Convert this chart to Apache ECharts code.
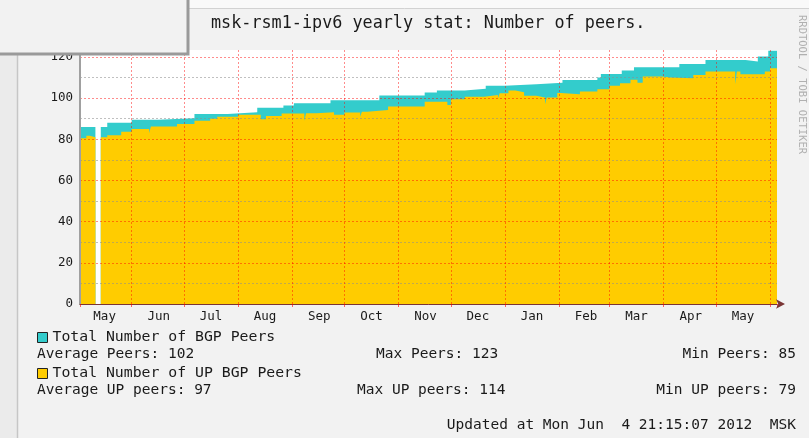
<!DOCTYPE html>
<html>
<head>
<meta charset="utf-8">
<title>msk-rsm1-ipv6 yearly stat</title>
<script src="https://cdn.jsdelivr.net/npm/echarts@6/dist/echarts.min.js"></script>
<style>
  html, body { margin: 0; padding: 0; background: #f2f2f2; }
  #chart { width: 809px; height: 438px; }
</style>
</head>
<body>
<div id="chart"></div>
<script>
// Total Number of BGP Peers (step points, value holds until next date)
const totalDates = ['2011-05-02 09:00', '2011-05-11 05:00', '2011-05-11 06:00', '2011-05-14 07:00', '2011-05-18', '2011-06-01',
  '2011-06-16', '2011-07-07', '2011-07-26', '2011-08-12', '2011-08-27', '2011-09-02', '2011-09-23', '2011-10-21',
  '2011-11-16', '2011-11-23', '2011-12-09', '2011-12-21', '2012-01-01', '2012-01-19', '2012-02-03', '2012-02-23',
  '2012-02-25', '2012-03-08', '2012-03-15', '2012-04-10', '2012-04-25', '2012-05-18', '2012-05-25', '2012-05-31', '2012-06-05'];
const totalPeers = [86, 86, null, 86, 88, 89.5,
  90.3, 92.3, 93.2, 95.4, 96.4, 97.5, 99, 101.3,
  102.7, 103.7, 104.6, 106, 106.7, 107.5, 108.8, 110,
  111.8, 113.4, 115, 116.6, 118.6, 117.8, 120.2, 123, 123];

// Total Number of UP BGP Peers
const upDates = ['2011-05-02 09:00', '2011-05-06', '2011-05-08', '2011-05-11 05:00', '2011-05-11 06:00', '2011-05-14 07:00',
  '2011-05-18', '2011-05-26', '2011-06-01', '2011-06-11', '2011-06-12', '2011-06-27', '2011-07-07', '2011-07-16',
  '2011-07-20', '2011-08-01', '2011-08-14', '2011-08-17', '2011-08-26', '2011-09-08', '2011-09-09', '2011-09-15',
  '2011-09-25', '2011-10-01', '2011-10-10', '2011-10-11', '2011-10-14', '2011-10-26', '2011-11-16', '2011-11-29',
  '2011-12-01', '2011-12-09', '2011-12-20', '2011-12-28', '2011-12-29', '2012-01-03', '2012-01-07', '2012-01-12',
  '2012-01-19', '2012-01-24', '2012-01-25', '2012-01-31', '2012-02-02', '2012-02-13', '2012-02-23', '2012-03-01',
  '2012-03-07', '2012-03-13', '2012-03-17', '2012-03-20', '2012-03-31', '2012-04-05', '2012-04-18', '2012-04-25',
  '2012-05-12', '2012-05-13', '2012-05-15', '2012-05-29', '2012-06-01', '2012-06-05'];
const upPeers = [80.5, 81.8, 81, 81, null, 81,
  82, 83.7, 85, 83, 86.2, 87.5, 89, 90,
  91, 92, 89.7, 91.3, 92.6, 89, 92.7, 93.1,
  92, 93, 91, 93.4, 94.3, 96, 98.3, 96.7,
  99.5, 100.7, 101.5, 100, 102.4, 103.7, 102.9, 101.2,
  100.3, 97, 100.3, 102.5, 101.9, 103.2, 104.3, 106,
  107.2, 109, 107.5, 110.5, 110, 109.7, 111.3, 112.9,
  106.7, 112.9, 111.6, 113, 114.5, 114.5];

const monthNames = ['Jan', 'Feb', 'Mar', 'Apr', 'May', 'Jun', 'Jul', 'Aug', 'Sep', 'Oct', 'Nov', 'Dec'];

const DAY = 86400000;
const axisStart = new Date(2011, 4, 2, 9).getTime();
const axisEnd = new Date(2012, 5, 5).getTime();
// month labels sit in the middle of the month
const labelShift = 15.5 * DAY;

const mono = 'DejaVu Sans Mono';
const textCol = '#1a1a1a';

function statText(text, pos) {
  return Object.assign({
    text: text,
    padding: 0,
    textStyle: { fontFamily: mono, fontSize: 14.5, fontWeight: 'normal', color: textCol }
  }, pos);
}

const chart = echarts.init(document.getElementById('chart'));

chart.setOption({
  animation: false,
  backgroundColor: '#f2f2f2',
  title: [
    { text: 'msk-rsm1-ipv6 yearly stat: Number of peers.', left: 211, top: 15, padding: 0,
      textStyle: { fontFamily: mono, fontSize: 16.8, fontWeight: 'normal', color: textCol } },
    statText('Average Peers: 102', { left: 37, top: 347 }),
    statText('Max Peers: 123', { left: 376, top: 347 }),
    statText('Min Peers: 85', { right: 13, top: 347 }),
    statText('Average UP peers: 97', { left: 37, top: 383 }),
    statText('Max UP peers: 114', { left: 357, top: 383 }),
    statText('Min UP peers: 79', { right: 13, top: 383 }),
    statText('Updated at Mon Jun  4 21:15:07 2012  MSK', { right: 13, top: 418 })
  ],
  legend: [
    { data: ['Total Number of BGP Peers'], left: 37, top: 330, padding: 0, icon: 'rect',
      itemWidth: 10, itemHeight: 10, selectedMode: false,
      itemStyle: { borderColor: '#222', borderWidth: 1 },
      textStyle: { fontFamily: mono, fontSize: 14.8, color: textCol } },
    { data: ['Total Number of UP BGP Peers'], left: 37, top: 366, padding: 0, icon: 'rect',
      itemWidth: 10, itemHeight: 10, selectedMode: false,
      itemStyle: { borderColor: '#222', borderWidth: 1 },
      textStyle: { fontFamily: mono, fontSize: 14.8, color: textCol } }
  ],
  grid: { left: 80, right: 32, top: 50, bottom: 134, show: true, backgroundColor: '#ffffff', borderWidth: 0 },
  xAxis: [
    {
      type: 'time', position: 'bottom', min: axisStart, max: axisEnd,
      minInterval: 28 * DAY, maxInterval: 31 * DAY, z: 10,
      axisLine: { onZero: false, symbol: ['none', 'arrow'], symbolSize: [7, 9], symbolOffset: [0, 8],
        lineStyle: { color: '#7a3535', width: 1 } },
      axisTick: { show: true, length: 3, lineStyle: { color: 'rgba(255,0,0,0.6)' } },
      axisLabel: { show: false },
      splitLine: { show: true, showMinLine: false, showMaxLine: false,
        lineStyle: { color: 'rgba(255,0,0,0.45)', type: [2, 2], width: 1 } }
    },
    {
      type: 'time', position: 'bottom', min: axisStart - labelShift, max: axisEnd - labelShift,
      minInterval: 28 * DAY, maxInterval: 31 * DAY,
      axisLine: { show: false, onZero: false }, axisTick: { show: false }, splitLine: { show: false },
      axisLabel: {
        margin: 6, fontFamily: mono, fontSize: 12.5, color: textCol,
        formatter: function (val) {
          const d = new Date(val);
          return (d.getDate() === 1 && d.getHours() === 0) ? monthNames[d.getMonth()] : '';
        }
      }
    }
  ],
  yAxis: {
    type: 'value', min: 0, max: 123.4, interval: 10, z: 10,
    axisLine: { show: true, lineStyle: { color: '#a0a0a0', width: 2 } },
    axisTick: { show: false },
    axisLabel: {
      margin: 7, fontFamily: mono, fontSize: 12.5, color: textCol, showMaxLabel: false,
      formatter: function (v) { return v % 20 === 0 ? String(v) : ''; }
    },
    splitLine: { show: true, showMaxLine: false,
      lineStyle: { color: ['rgba(255,0,0,0.45)', 'rgba(140,140,140,0.55)'], type: [2, 2], width: 1 } }
  },
  series: [
    {
      name: 'Total Number of BGP Peers', type: 'line', step: 'end', xAxisIndex: 0,
      data: totalDates.map((d, i) => [d, totalPeers[i]]),
      symbol: 'none', silent: true, z: 2,
      itemStyle: { color: '#33cccc' },
      lineStyle: { width: 0 },
      areaStyle: { color: '#33cccc', opacity: 1 }
    },
    {
      name: 'Total Number of UP BGP Peers', type: 'line', step: 'end', xAxisIndex: 0,
      data: upDates.map((d, i) => [d, upPeers[i]]),
      symbol: 'none', silent: true, z: 3,
      itemStyle: { color: '#ffcc00' },
      lineStyle: { width: 0 },
      areaStyle: { color: '#ffcc00', opacity: 1 }
    }
  ],
  graphic: [
    { type: 'rect', z: 1, shape: { x: 0, y: 0, width: 17, height: 438 }, style: { fill: '#ebebeb' } },
    { type: 'line', z: 1, shape: { x1: 17.5, y1: 0, x2: 17.5, y2: 438 }, style: { stroke: '#c6c6c6', lineWidth: 1.5 } },
    { type: 'rect', z: 1, shape: { x: 0, y: 0, width: 809, height: 8 }, style: { fill: '#f9f9f9' } },
    { type: 'line', z: 1, shape: { x1: 0, y1: 8.5, x2: 809, y2: 8.5 }, style: { stroke: '#d2d2d2', lineWidth: 1 } },
    { type: 'rect', z: 100, shape: { x: -4, y: -4, width: 192, height: 58 },
      style: { fill: '#f2f2f2', stroke: '#9a9a9a', lineWidth: 3 } },
    { type: 'text', z: 5, x: 807, y: 15, rotation: -Math.PI / 2,
      style: { text: 'RRDTOOL / TOBI OETIKER', fill: '#b0b0b0', font: '10.5px "DejaVu Sans Mono"',
        textAlign: 'left', textVerticalAlign: 'top' } }
  ]
});
</script>
</body>
</html>
